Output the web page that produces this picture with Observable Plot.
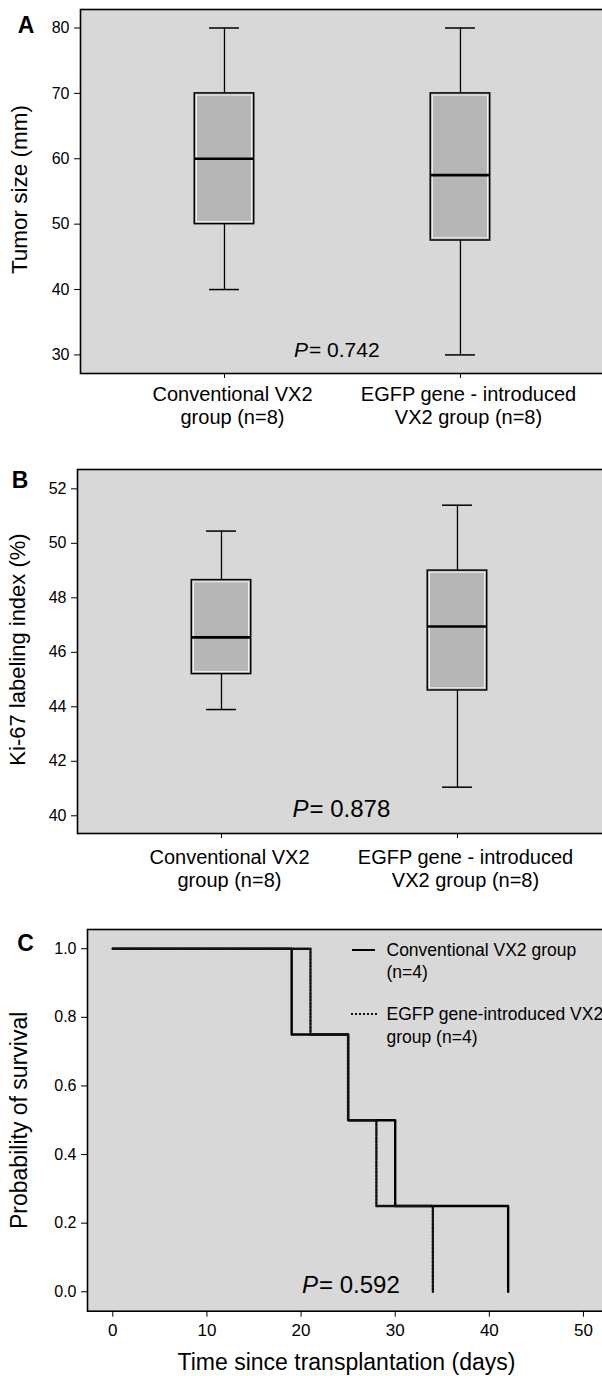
<!DOCTYPE html>
<html>
<head>
<meta charset="utf-8">
<script src="https://cdn.jsdelivr.net/npm/d3@7"></script>
<script src="https://cdn.jsdelivr.net/npm/@observablehq/plot@0.6"></script>
<style>
  html, body { margin: 0; padding: 0; background: #fff; overflow: hidden; }
  #wrap { position: relative; width: 602px; height: 1376px; overflow: hidden; font-family: "Liberation Sans", Arial, sans-serif; }
  .panel { position: absolute; left: 0; width: 640px; }
  .panel svg { max-width: none !important; width: 640px !important; display: block; }
  .legend { position: absolute; font-size: 17.5px; line-height: 22.7px; color: #000; white-space: nowrap; }
  .swatch { position: absolute; left: -35px; top: 10px; width: 23px; height: 0; }
  .swatch.solid { border-top: 2.6px solid #000; }
  .swatch.dotted { left: -36px; width: 26px; border-top: 2.2px dotted #111; }
</style>
</head>
<body>
<div id="wrap">
  <div class="panel" id="pA" style="top:0px"></div>
  <div class="panel" id="pB" style="top:440px"></div>
  <div class="panel" id="pC" style="top:900px"></div>
  <div class="legend" style="left:386.5px; top:938.5px;">
    <span class="swatch solid"></span>
    <div id="leg1a"></div><div id="leg1b"></div>
  </div>
  <div class="legend" style="left:386.5px; top:1003px;">
    <span class="swatch dotted"></span>
    <div id="leg2a"></div><div id="leg2b"></div>
  </div>
</div>
<script>
// ---------- data ----------
const groupLabels = ["Conventional VX2\ngroup (n=8)", "EGFP gene - introduced\nVX2 group (n=8)"];

// Panel A: tumor size (mm)
const tumorMin    = [40, 30];
const tumorQ1     = [50, 47.5];
const tumorMedian = [60, 57.5];
const tumorQ3     = [70, 70];
const tumorMax    = [80, 80];
const tumorTicks  = [30, 40, 50, 60, 70, 80];

// Panel B: Ki-67 labeling index (%)
const kiMin    = [43.9, 41.05];
const kiQ1     = [45.2, 44.6];
const kiMedian = [46.55, 46.95];
const kiQ3     = [48.65, 49.0];
const kiMax    = [50.45, 51.4];
const kiTicks  = [40, 42, 44, 46, 48, 50, 52];

// Panel C: Kaplan-Meier survival
const convTimes = [0, 19, 25, 30, 42];
const convSurv  = [1.0, 0.75, 0.5, 0.25, 0.0];
const egfpTimes = [0, 21, 25, 28, 34];
const egfpSurv  = [1.0, 0.75, 0.5, 0.25, 0.0];
const dayTicks  = [0, 10, 20, 30, 40, 50];
const survTicks = [0, 0.2, 0.4, 0.6, 0.8, 1.0];
const legendLabels = [["Conventional VX2 group", "(n=4)"], ["EGFP gene-introduced VX2", "group (n=4)"]];

const pValues = ["0.742", "0.878", "0.592"];
const panelLetters = ["A", "B", "C"];
const yTitles = ["Tumor size (mm)", "Ki-67 labeling index (%)", "Probability of survival"];
const xTitleC = "Time since transplantation (days)";

// ---------- helpers ----------
const FONT = "'Liberation Sans', Arial, Helvetica, sans-serif";
const PLOT_BG = "#d8d8d8";
const BOX_FILL = "#b6b6b6";

function stats(mins, q1s, meds, q3s, maxs) {
  return groupLabels.map((g, i) => ({group: g, min: mins[i], q1: q1s[i], median: meds[i], q3: q3s[i], max: maxs[i]}));
}

function boxPanel(o) {
  const data = stats(...o.values);
  const capInset = 14.75;
  return Plot.plot({
    width: 640, height: o.height,
    marginLeft: o.ml, marginRight: 0, marginTop: o.mt, marginBottom: o.mb,
    style: {fontFamily: FONT, background: "transparent", color: "#000", overflow: "visible"},
    x: {type: "band", domain: groupLabels, range: o.xrange, paddingInner: 0.748, paddingOuter: 0, round: false, axis: null},
    y: {domain: o.ydomain, axis: null},
    marks: [
      Plot.frame({fill: PLOT_BG, stroke: "none"}),
      Plot.ruleX(data, {x: "group", y1: "min", y2: "max", stroke: "#000", strokeWidth: 1.3}),
      Plot.tickY(data, {x: "group", y: "min", stroke: "#000", strokeWidth: 1.5, insetLeft: capInset, insetRight: capInset}),
      Plot.tickY(data, {x: "group", y: "max", stroke: "#000", strokeWidth: 1.5, insetLeft: capInset, insetRight: capInset}),
      Plot.barY(data, {x: "group", y1: "q1", y2: "q3", fill: BOX_FILL, stroke: "#000", strokeWidth: 1.5}),
      Plot.barY(data, {x: "group", y1: "q1", y2: "q3", fill: "none", stroke: "#fff", strokeWidth: 1, strokeOpacity: 0.8, inset: 2.2}),
      Plot.tickY(data, {x: "group", y: "median", stroke: "#000", strokeWidth: 2.6}),
      Plot.frame({stroke: "#000", strokeWidth: 1.6}),
      Plot.axisY({ticks: o.ticks, tickSize: 6, tickPadding: 5, fontSize: 16, label: null}),
      Plot.axisX({tickSize: 5, tickFormat: () => "", label: null}),
      Plot.text(groupLabels, {x: d => d, frameAnchor: "bottom", textAnchor: "middle", lineAnchor: "top",
        dx: 8, dy: o.labelDy, fontSize: 20, lineHeight: 1.15}),
      Plot.text([o.ytitle], {frameAnchor: "left", textAnchor: "middle", lineAnchor: "middle", rotate: -90,
        dx: o.ytitleDx, dy: -2, fontSize: o.ytitleSize}),
      Plot.text([o.letter], {frameAnchor: "top-left", textAnchor: "middle", lineAnchor: "middle",
        dx: o.letterDx, dy: o.letterDy, fontSize: 23, fontWeight: "bold"}),
      Plot.text(["P"], {frameAnchor: "bottom-left", textAnchor: "end", lineAnchor: "middle",
        dx: o.pDx, dy: o.pDy, fontSize: o.pSize, fontStyle: "italic"}),
      Plot.text(["= " + o.p], {frameAnchor: "bottom-left", textAnchor: "start", lineAnchor: "middle",
        dx: o.pDx + 1, dy: o.pDy, fontSize: o.pSize})
    ]
  });
}

document.getElementById("pA").append(boxPanel({
  values: [tumorMin, tumorQ1, tumorMedian, tumorQ3, tumorMax],
  height: 440, ml: 80, mt: 9, mb: 67,
  xrange: [194.25, 489.7], ydomain: [27.16, 82.83], ticks: tumorTicks,
  labelDy: 11.5, ytitle: yTitles[0], ytitleDx: -61, ytitleSize: 22.5,
  letter: panelLetters[0], letterDx: -54.5, letterDy: 16,
  p: pValues[0], pDx: 227.5, pDy: -23, pSize: 21
}));

document.getElementById("pB").append(boxPanel({
  values: [kiMin, kiQ1, kiMedian, kiQ3, kiMax],
  height: 460, ml: 77, mt: 29, mb: 67,
  xrange: [191.25, 486.7], ydomain: [39.35, 52.71], ticks: kiTicks,
  labelDy: 14, ytitle: yTitles[1], ytitleDx: -60, ytitleSize: 22,
  letter: panelLetters[1], letterDx: -57.5, letterDy: 11,
  p: pValues[1], pDx: 231, pDy: -24, pSize: 24
}));

// Panel C
const conv = convTimes.map((t, i) => ({t, s: convSurv[i]}));
const egfp = egfpTimes.map((t, i) => ({t, s: egfpSurv[i]}));

document.getElementById("pC").append(Plot.plot({
  width: 640, height: 476,
  marginLeft: 87, marginRight: 0, marginTop: 29, marginBottom: 65.3,
  style: {fontFamily: FONT, background: "transparent", color: "#000", overflow: "visible"},
  x: {domain: [-2.69, 56.06], axis: null},
  y: {domain: [-0.0566, 1.056], axis: null},
  marks: [
    Plot.frame({fill: PLOT_BG, stroke: "none"}),
    Plot.line(conv, {x: "t", y: "s", curve: "step-after", stroke: "#000", strokeWidth: 2.4}),
    Plot.line(egfp, {x: "t", y: "s", curve: "step-after", stroke: "#111", strokeWidth: 2.4, strokeDasharray: "1.8 1.6"}),
    Plot.frame({stroke: "#000", strokeWidth: 1.6}),
    Plot.axisY({ticks: survTicks, tickFormat: d3.format(".1f"), tickSize: 6, tickPadding: 5, fontSize: 16, label: null}),
    Plot.axisX({ticks: dayTicks, tickSize: 6, tickPadding: 7, fontSize: 17, label: null}),
    Plot.text([xTitleC], {frameAnchor: "bottom-left", textAnchor: "middle", lineAnchor: "middle",
      dx: 259, dy: 51, fontSize: 23}),
    Plot.text([yTitles[2]], {frameAnchor: "left", textAnchor: "middle", lineAnchor: "middle", rotate: -90,
      dx: -68, dy: 0, fontSize: 23}),
    Plot.text([panelLetters[2]], {frameAnchor: "top-left", textAnchor: "middle", lineAnchor: "middle",
      dx: -62, dy: 14, fontSize: 23, fontWeight: "bold"}),
    Plot.text(["P"], {frameAnchor: "bottom-left", textAnchor: "end", lineAnchor: "middle",
      dx: 230.5, dy: -26, fontSize: 24, fontStyle: "italic"}),
    Plot.text(["= " + pValues[2]], {frameAnchor: "bottom-left", textAnchor: "start", lineAnchor: "middle",
      dx: 231.5, dy: -26, fontSize: 24})
  ]
}));

document.getElementById("leg1a").textContent = legendLabels[0][0];
document.getElementById("leg1b").textContent = legendLabels[0][1];
document.getElementById("leg2a").textContent = legendLabels[1][0];
document.getElementById("leg2b").textContent = legendLabels[1][1];
</script>
</body>
</html>
